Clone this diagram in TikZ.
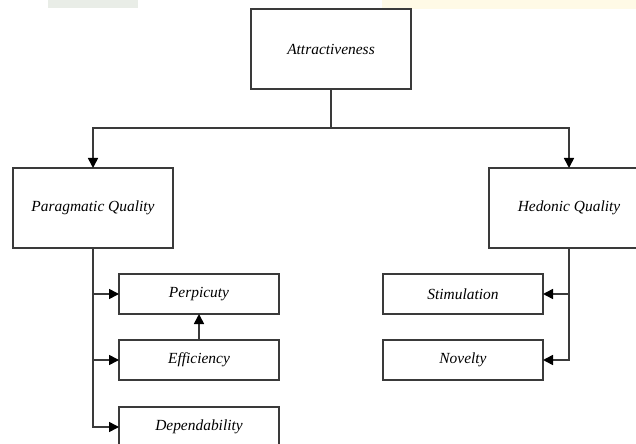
\documentclass[tikz,border=0pt]{standalone}
\usepackage{fontspec}
\setmainfont{Liberation Serif}
\usetikzlibrary{arrows.meta}
\definecolor{linegray}{HTML}{3A3A3A}
\definecolor{wmgreen}{HTML}{E9EDE7}
\definecolor{wmyellow}{HTML}{FFFAE6}
\tikzset{
  bigbox/.style={draw=linegray, line width=1.6bp, minimum width=160bp, minimum height=80bp, inner sep=0pt, outer sep=0pt, font=\fontsize{15.5}{18}\selectfont\itshape},
  smallbox/.style={draw=linegray, line width=1.6bp, minimum width=160bp, minimum height=40bp, inner sep=0pt, outer sep=0pt, font=\fontsize{15.5}{18}\selectfont\itshape},
  conn/.style={draw=linegray, line width=1.6bp},
  arr/.style={conn, -{Triangle[length=10bp,width=10bp,fill=black,color=black]}}
}
\begin{document}
\begin{tikzpicture}[x=1bp,y=-1bp]
\useasboundingbox (0,0) rectangle (636,444);
\clip (0,0) rectangle (636,444);
\fill[white] (0,0) rectangle (636,444);
% faint watermark band at top
\fill[wmgreen] (48,0) rectangle (138,8);
\fill[wmyellow] (382,0) rectangle (636,9);
% nodes
\node[bigbox] (A) at (331,49) {Attractiveness};
\node[bigbox] (P) at (93,208) {Paragmatic Quality};
\node[bigbox] (H) at (569,208) {Hedonic Quality};
\node[smallbox] (Per) at (199,294) {Perpicuty};
\node[smallbox] (Eff) at (199,360) {Efficiency};
\node[smallbox] (Dep) at (199,427) {Dependability};
\node[smallbox] (Sti) at (463,294) {Stimulation};
\node[smallbox] (Nov) at (463,360) {Novelty};
% connectors
\coordinate (j) at (331,128);
\draw[conn] (A.south) -- (j);
\draw[arr] (j) -| (P.north);
\draw[arr] (j) -| (H.north);
\draw[arr] (P.south) |- (Per.west);
\draw[arr] (P.south) |- (Eff.west);
\draw[arr] (P.south) |- (Dep.west);
\draw[arr] (Eff.north) -- (Per.south);
\draw[arr] (H.south) |- (Sti.east);
\draw[arr] (H.south) |- (Nov.east);
\end{tikzpicture}
\end{document}
